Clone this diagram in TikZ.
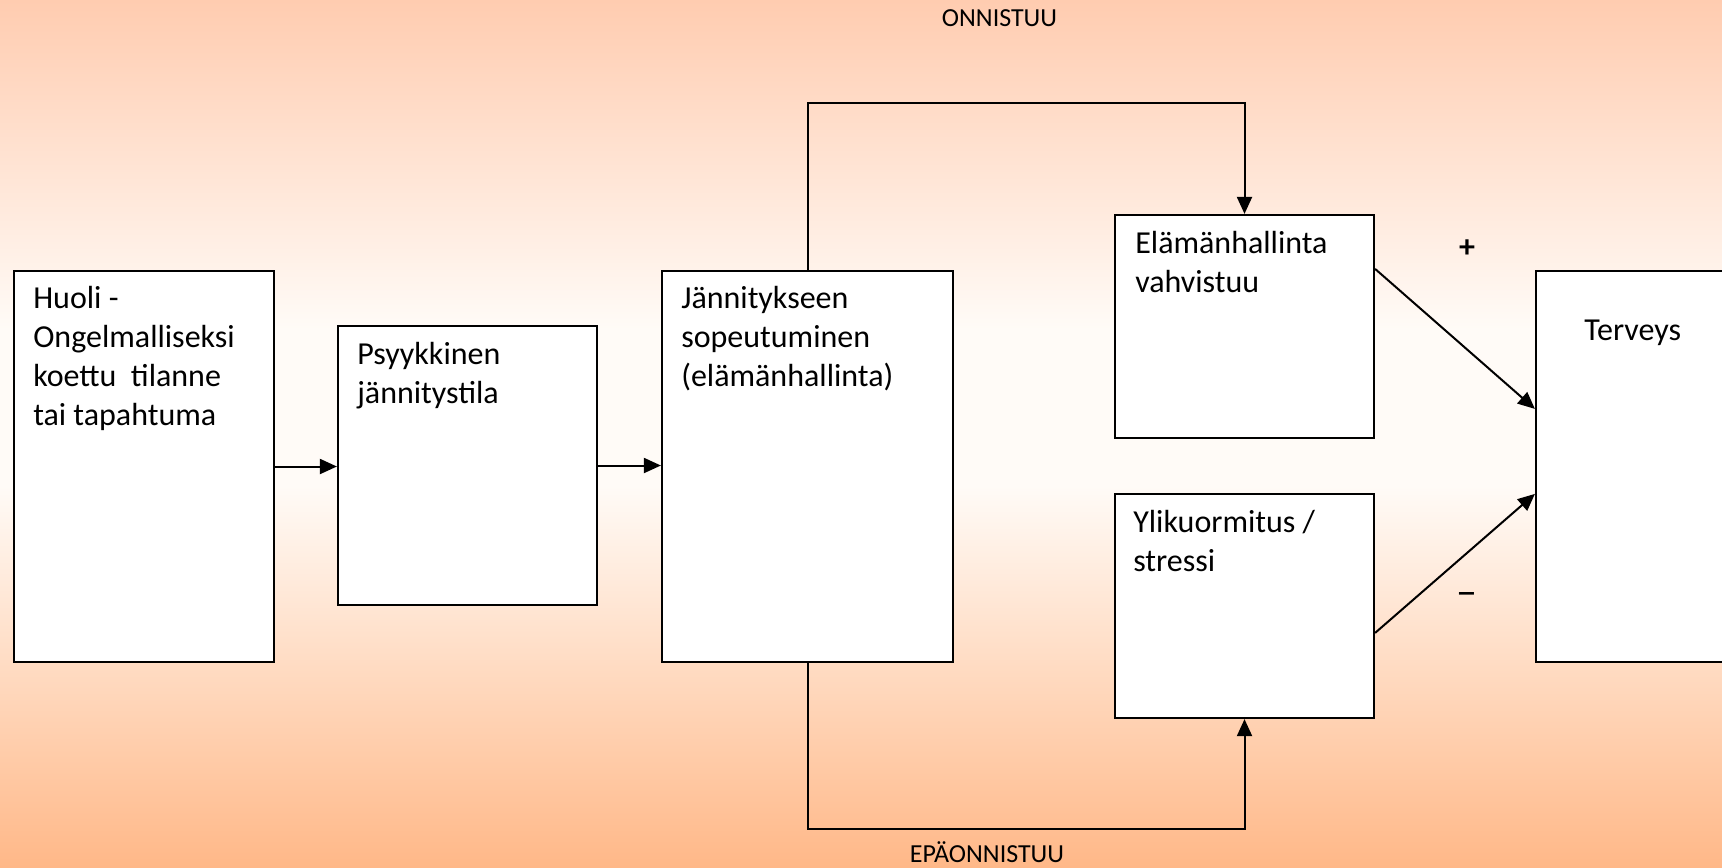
\documentclass[tikz,border=0pt]{standalone}
\usepackage{fontspec}
\setmainfont{Carlito}
\definecolor{bgtop}{RGB}{255,204,176}
\definecolor{bgmid}{RGB}{255,251,247}
\definecolor{bgbot}{RGB}{255,184,136}
\usetikzlibrary{arrows.meta,positioning,calc}
\pgfdeclareverticalshading{bgshade}{100bp}{color(0bp)=(bgbot); color(25bp)=(bgbot);
  color(47bp)=(bgmid); color(56bp)=(bgmid); color(75bp)=(bgtop); color(100bp)=(bgtop)}

\begin{document}
\begin{tikzpicture}[x=0.5pt,y=-0.5pt,
  box/.style={draw,fill=white,line width=1.1pt,inner sep=0pt},
  txt/.style={anchor=base west,inner sep=0pt,text width=125pt,align=flush left,
    font=\fontsize{16}{19.5}\selectfont},
  lbl/.style={anchor=base,inner sep=0pt,font=\fontsize{13}{15}\selectfont},
  arr/.style={-{Triangle[length=8.5pt,width=7.5pt]},line width=1pt}
]
  \clip (0,0) rectangle (1722,867);
  % Background
  \begin{scope}[y=0.5pt]
    \shade[shading=bgshade] (0,-867) rectangle (1722,0);
  \end{scope}
  % Boxes
  \node[box,minimum width=130pt,minimum height=195.5pt] (huoli) at (144,466.5) {};
  \node[box,minimum width=129.5pt,minimum height=139.5pt] (psyyk) at (467.5,465.5) {};
  \node[box,minimum width=145.5pt,minimum height=195.5pt] (sopeut) at (807.5,466.5) {};
  \node[box,minimum width=129.5pt,minimum height=111.5pt] (vahv) at (1244.5,326.5) {};
  \node[box,minimum width=129.5pt,minimum height=112pt] (stressi) at (1244.5,606) {};
  \node[box,minimum width=129.5pt,minimum height=195.5pt] (terveys) at (1665.5,466.5) {};
  % Texts
  \node[txt] (t1) at ($(huoli.north west)+(20,39)$) {Huoli -\\Ongelmalliseksi\\koettu\ \ tilanne\\tai tapahtuma};
  \node[txt] (t2) at ($(psyyk.north west)+(20,40)$) {Psyykkinen\\jännitystila};
  \node[txt] (t3) at ($(sopeut.north west)+(20,39)$) {Jännitykseen\\sopeutuminen\\(elämänhallinta)};
  \node[txt] (t4) at ($(vahv.north west)+(21,40)$) {Elämänhallinta\\vahvistuu};
  \node[txt] (t5) at ($(stressi.north west)+(19,40)$) {Ylikuormitus /\\stressi};
  \node[txt] (t6) at ($(terveys.north west)+(49,71)$) {Terveys};
  \node[lbl] (onn) at (999.5,26) {ONNISTUU};
  \node[lbl] (epaonn) at (987,862) {EPÄONNISTUU};
  \node[font=\fontsize{16}{19}\selectfont\bfseries,inner sep=0pt] (plus) at (1467,249) {+};
  \node[font=\fontsize{21}{24}\selectfont,inner sep=0pt] (miinus) at (1467,599) {–};
  % Arrows
  \coordinate (ylos) at (0,103);
  \coordinate (alas) at (0,829);
  \foreach \a/\b in {huoli/psyyk, psyyk/sopeut} {
    \draw[arr] (\a.east) -- (\b.west |- \a.east);
  }
  \draw[arr] (sopeut.north) -- (sopeut.north |- ylos) -| (vahv.north);
  \draw[arr] (sopeut.south) -- (sopeut.south |- alas) -| (stressi.south);
  \draw[arr] ($(vahv.north east)+(0,55)$) -- ($(terveys.north west)+(0,139)$);
  \draw[arr] ($(stressi.north east)+(0,140)$) -- ($(terveys.north west)+(0,224)$);
\end{tikzpicture}
\end{document}
